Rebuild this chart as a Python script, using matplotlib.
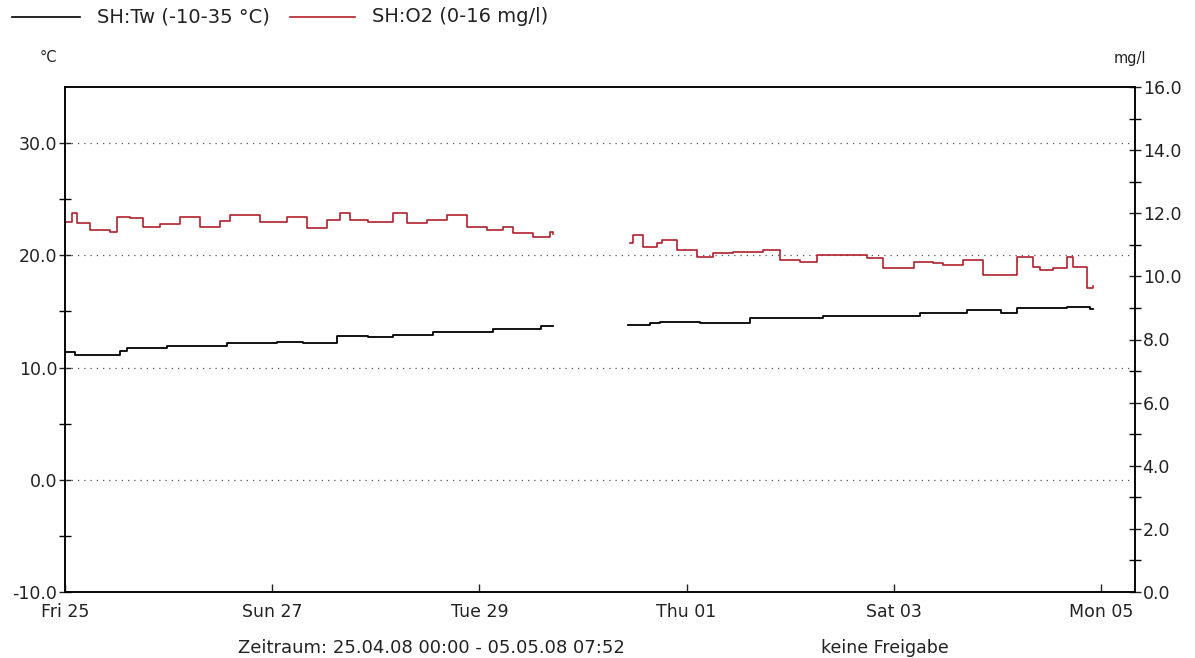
import matplotlib
matplotlib.use("Agg")
import matplotlib.pyplot as plt
import matplotlib.dates as mdates
from matplotlib.lines import Line2D
import pandas as pd

plt.rcParams['font.family'] = ['DejaVu Sans']

START = pd.Timestamp("2008-04-25 00:00")
END = pd.Timestamp("2008-05-05 07:52")

# water temperature (days since 25.04.08 00:00, degC)
tw_days_1 = [0.00, 0.10, 0.43, 0.53, 0.60, 0.98, 1.33, 1.56, 2.05, 2.30, 2.63,
             2.92, 3.17, 3.55, 4.13, 4.59, 4.71]
tw_vals_1 = [11.4, 11.1, 11.1, 11.5, 11.7, 11.9, 11.9, 12.2, 12.3, 12.2, 12.8,
             12.7, 12.9, 13.2, 13.4, 13.7, 13.7]
tw_days_2 = [5.43, 5.65, 5.74, 6.13, 6.61, 7.32, 8.16, 8.25, 8.71, 9.03, 9.19,
             9.67, 9.89, 9.92]
tw_vals_2 = [13.8, 14.0, 14.1, 14.0, 14.4, 14.6, 14.6, 14.9, 15.1, 14.9, 15.3,
             15.4, 15.2, 15.2]

# dissolved oxygen (days since start, mg/l)
o2_days_1 = [0.00, 0.07, 0.12, 0.24, 0.43, 0.50, 0.63, 0.75, 0.92, 1.11, 1.30,
             1.50, 1.59, 1.88, 2.14, 2.34, 2.53, 2.65, 2.75, 2.92, 3.17, 3.30,
             3.49, 3.69, 3.88, 4.07, 4.23, 4.32, 4.52, 4.68, 4.71]
o2_vals_1 = [11.73, 12.0, 11.69, 11.47, 11.42, 11.89, 11.86, 11.57, 11.67, 11.89, 11.57,
             11.75, 11.95, 11.73, 11.89, 11.52, 11.79, 12.0, 11.79, 11.73, 12.0, 11.69,
             11.79, 11.95, 11.57, 11.47, 11.57, 11.36, 11.26, 11.42, 11.33]
o2_days_2 = [5.45, 5.48, 5.58, 5.71, 5.76, 5.91, 6.10, 6.25, 6.45, 6.74, 6.90,
             7.09, 7.26, 7.48, 7.74, 7.90, 8.09, 8.19, 8.38, 8.47, 8.67, 8.86,
             9.03, 9.19, 9.34, 9.41, 9.54, 9.67, 9.73, 9.86, 9.92]
o2_vals_2 = [11.05, 11.31, 10.94, 11.05, 11.15, 10.84, 10.62, 10.73, 10.78, 10.84, 10.52,
             10.47, 10.68, 10.68, 10.57, 10.26, 10.26, 10.47, 10.42, 10.36, 10.52, 10.04,
             10.04, 10.62, 10.31, 10.20, 10.26, 10.62, 10.31, 9.62, 9.68]

x_tick_dates = ["2008-04-25", "2008-04-27", "2008-04-29", "2008-05-01", "2008-05-03", "2008-05-05"]

RED = "#b0202c"
TXT = "#222222"
FS = 12.5
W, H = 1195, 658


def to_time(days):
    return START + pd.to_timedelta(days, unit="D")


fig = plt.figure(figsize=(W / 100, H / 100), dpi=100)
ax = fig.add_axes([65 / W, 1 - 592 / H, 1070 / W, 505 / H])
ax2 = ax.twinx()

ax.plot(to_time(tw_days_1), tw_vals_1, color="black", lw=1.3, drawstyle="steps-post")
ax.plot(to_time(tw_days_2), tw_vals_2, color="black", lw=1.3, drawstyle="steps-post")
ax2.plot(to_time(o2_days_1), o2_vals_1, color=RED, lw=1.2, drawstyle="steps-post")
ax2.plot(to_time(o2_days_2), o2_vals_2, color=RED, lw=1.2, drawstyle="steps-post")

ax.set_xlim(START, END)
ax.set_ylim(-10, 35)
ax2.set_ylim(0, 16)

ax.set_yticks([-10, 0, 10, 20, 30])
ax.set_yticks([-5, 5, 15, 25], minor=True)
ax.set_yticklabels(["-10.0", "0.0", "10.0", "20.0", "30.0"])
ax2.set_yticks([0, 2, 4, 6, 8, 10, 12, 14, 16])
ax2.set_yticks([1, 3, 5, 7, 9, 11, 13, 15], minor=True)
ax2.set_yticklabels([f"{v:.1f}" for v in range(0, 17, 2)])

ax.set_xticks(pd.to_datetime(x_tick_dates))
ax.xaxis.set_major_formatter(mdates.DateFormatter("%a %d"))

for a in (ax, ax2):
    a.tick_params(axis="y", which="major", direction="inout", length=9, width=1,
                  labelsize=FS, pad=1, colors=TXT)
    a.tick_params(axis="y", which="minor", direction="inout", length=9, width=1)
    for s in a.spines.values():
        s.set_linewidth(1.1)
ax.tick_params(axis="x", direction="in", length=6, width=1, labelsize=FS, pad=8,
               colors=TXT)

for v in [0, 10, 20, 30]:
    ax.axhline(v, color="#555555", lw=0.9, ls=(0, (1, 4)))

fig.text(40 / W, 1 - 58 / H, "°C", fontsize=10.5, ha="left", va="center", color=TXT)
fig.text(1146 / W, 1 - 59 / H, "mg/l", fontsize=10.5, ha="right", va="center", color=TXT)

# legend row drawn by hand to match the original spacing
legend_items = [("SH:Tw (-10-35 °C)", "black", 12, 80, 97),
                ("SH:O2 (0-16 mg/l)", RED, 290, 355, 372)]
for label, col, x0, x1, xt in legend_items:
    fig.add_artist(Line2D([x0 / W, x1 / W], [1 - 17 / H, 1 - 17 / H], color=col, lw=1.2))
    fig.text(xt / W, 1 - 17 / H, label, fontsize=14, ha="left", va="center", color=TXT)

fig.text(431 / W, 1 - 648 / H, "Zeitraum: 25.04.08 00:00 - 05.05.08 07:52",
         fontsize=13, ha="center", va="center", color=TXT)
fig.text(885 / W, 1 - 648 / H, "keine Freigabe", fontsize=FS, ha="center", va="center",
         color=TXT)

fig.savefig("out.png", dpi=100)
